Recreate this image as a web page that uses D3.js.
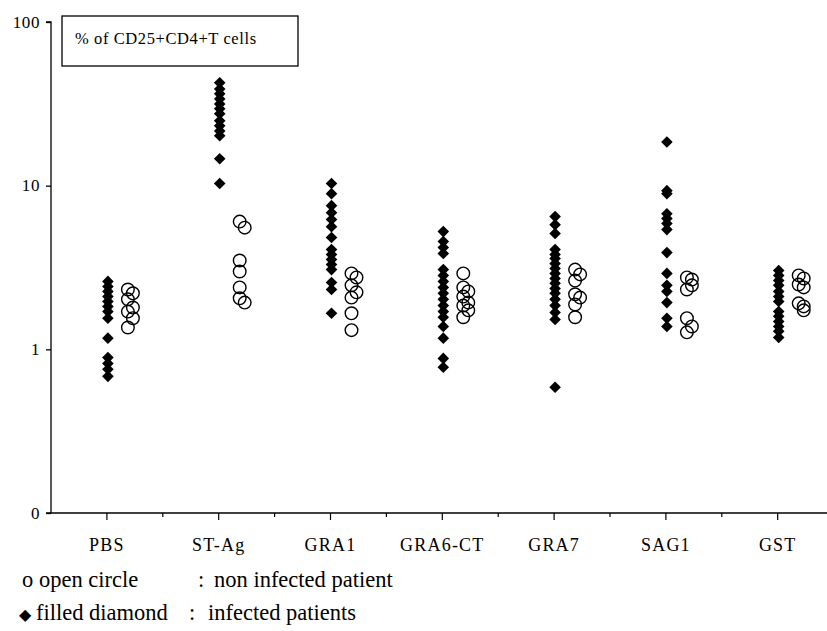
<!DOCTYPE html>
<html>
<head>
<meta charset="utf-8">
<style>
  body { margin: 0; background: #fff; }
</style>
</head>
<body>
<div class="container"></div>
<script src="https://d3js.org/d3.v7.min.js"></script>
<script>
// categories along the x axis
var categories = ['PBS', 'ST-Ag', 'GRA1', 'GRA6-CT', 'GRA7', 'SAG1', 'GST'];

// filled diamonds : infected patients (% of CD25+CD4+ T cells)
var infected = [
  [2.60, 2.42, 2.26, 2.10, 1.96, 1.83, 1.70, 1.55, 1.17, 0.89, 0.82, 0.755, 0.684],
  [42.5, 39.0, 36.4, 33.9, 31.6, 29.5, 27.5, 24.9, 23.2, 21.6, 20.2, 14.6, 10.3],
  [10.3, 8.94, 7.55, 6.84, 6.21, 5.62, 4.82, 4.07, 3.80, 3.54, 3.30, 3.07, 2.56, 2.32, 1.66],
  [5.24, 4.56, 4.19, 3.85, 3.07, 2.83, 2.60, 2.39, 2.20, 2.02, 1.85, 1.70, 1.57, 1.38, 1.17, 0.88, 0.777],
  [6.47, 5.78, 5.10, 4.07, 3.80, 3.59, 3.34, 3.12, 2.91, 2.71, 2.53, 2.35, 2.20, 2.02, 1.85, 1.68, 1.52, 0.587],
  [18.5, 9.32, 8.94, 6.74, 6.29, 5.87, 5.39, 3.90, 2.91, 2.46, 2.26, 1.93, 1.55, 1.38],
  [3.03, 2.83, 2.63, 2.46, 2.26, 2.10, 1.96, 1.70, 1.59, 1.48, 1.38, 1.29, 1.18]
];

// open circles : non infected patients
var nonInfected = [
  [2.32, 2.20, 2.02, 1.80, 1.70, 1.55, 1.36],
  [6.03, 5.54, 3.49, 2.99, 2.39, 2.05, 1.93],
  [2.91, 2.75, 2.46, 2.23, 2.07, 1.66, 1.31],
  [2.91, 2.39, 2.26, 2.10, 1.93, 1.85, 1.73, 1.57],
  [3.07, 2.87, 2.63, 2.17, 2.07, 1.88, 1.57],
  [2.75, 2.67, 2.46, 2.32, 1.55, 1.38, 1.27],
  [2.83, 2.71, 2.49, 2.39, 1.91, 1.83, 1.73]
];

var yTicks = [0.1, 1, 10, 100];
var yTickLabels = ['0', '1', '10', '100'];

var legendTitle = '% of CD25+CD4+T cells';
var legendRows = [
  ['o', 'open circle', ':', 'non infected patient'],
  ['\u25C6', 'filled diamond', ':', 'infected patients']
];

var width = 827, height = 631;

var svg = d3.select('.container').append('svg')
    .attr('width', width)
    .attr('height', height)
    .style('font-family', '"Liberation Serif", "Times New Roman", serif');

var x = d3.scaleBand()
    .domain(categories)
    .range([51, 51 + 7 * 111.8]);

var y = d3.scaleLog()
    .domain([0.1, 100])
    .range([513, 22]);

// y axis
var yAxis = d3.axisLeft(y)
    .tickValues(yTicks)
    .tickSize(5)
    .tickFormat(function(d, i) { return yTickLabels[i]; });

var gy = svg.append('g')
    .attr('transform', 'translate(51,0)')
    .call(yAxis)
    .attr('font-family', null);
gy.select('.domain').attr('d', 'M-5,22H0V513').attr('stroke', '#000').attr('stroke-width', 1.3);
gy.selectAll('.tick line').attr('stroke', '#000').attr('stroke-width', 1.3);
gy.selectAll('.tick text')
    .attr('font-size', 17)
    .attr('letter-spacing', 0.6)
    .attr('fill', '#000')
    .attr('x', -11)
    .attr('dy', '0.3em');

// x axis
var gx = svg.append('g')
    .attr('transform', 'translate(0,513)');
gx.append('line')
    .attr('x1', 46).attr('x2', width)
    .attr('stroke', '#000').attr('stroke-width', 1.5);

// minor ticks on band edges
gx.selectAll('.minor')
  .data(categories.slice(1))
  .join('line')
    .attr('x1', function(d) { return x(d); })
    .attr('x2', function(d) { return x(d); })
    .attr('y2', 4)
    .attr('stroke', '#000').attr('stroke-width', 1.2);

var ticks = gx.selectAll('.cat')
  .data(categories)
  .join('g')
    .attr('transform', function(d) { return 'translate(' + (x(d) + x.bandwidth() / 2) + ',0)'; });
ticks.append('line')
    .attr('y2', 7)
    .attr('stroke', '#000').attr('stroke-width', 1.2);
ticks.append('text')
    .attr('y', 38)
    .attr('text-anchor', 'middle')
    .attr('font-size', 18)
    .attr('letter-spacing', 1.2)
    .text(function(d) { return d; });

// legend box with the measure name
svg.append('rect')
    .attr('x', 62).attr('y', 16)
    .attr('width', 236).attr('height', 50)
    .attr('fill', '#fff')
    .attr('stroke', '#000').attr('stroke-width', 1.3);
svg.append('text')
    .attr('x', 75).attr('y', 44)
    .attr('font-size', 16.5)
    .attr('letter-spacing', 0.6)
    .text(legendTitle);

// filled diamonds
var diamond = function(cx, cy) {
  var r = 5.8;
  return 'M' + cx + ',' + (cy - r) + 'L' + (cx + r) + ',' + cy +
         'L' + cx + ',' + (cy + r) + 'L' + (cx - r) + ',' + cy + 'Z';
};

var groups = svg.append('g');
categories.forEach(function(cat, i) {
  var cx = x(cat) + x.bandwidth() / 2 + 1;

  groups.append('g').selectAll('path')
    .data(infected[i])
    .join('path')
      .attr('d', function(v) { return diamond(cx, y(v)); })
      .attr('fill', '#000');

  // open circles: shift right when they crowd the one above
  var placed = [];
  var pts = nonInfected[i].slice().sort(d3.descending).map(function(v) {
    var py = y(v), off = 20;
    var clash = placed.some(function(p) { return p.off === 20 && Math.abs(p.y - py) < 9; });
    if (clash) off = 25;
    var p = { y: py, off: off };
    placed.push(p);
    return p;
  });

  groups.append('g').selectAll('circle')
    .data(pts)
    .join('circle')
      .attr('cx', function(p) { return cx + p.off; })
      .attr('cy', function(p) { return p.y; })
      .attr('r', 6.3)
      .attr('fill', 'none')
      .attr('stroke', '#000')
      .attr('stroke-width', 1.4);
});

// legend lines under the axis
var legX = [[22, 39, 198, 214], [19, 36, 189, 208]];
var leg = svg.append('g');
legendRows.forEach(function(row, i) {
  var ly = 587 + i * 33;
  row.forEach(function(t, j) {
    leg.append('text')
        .attr('x', legX[i][j]).attr('y', ly)
        .attr('font-size', (i === 1 && j === 0) ? 16 : 22.5)
        .text(t);
  });
});
</script>
</body>
</html>
